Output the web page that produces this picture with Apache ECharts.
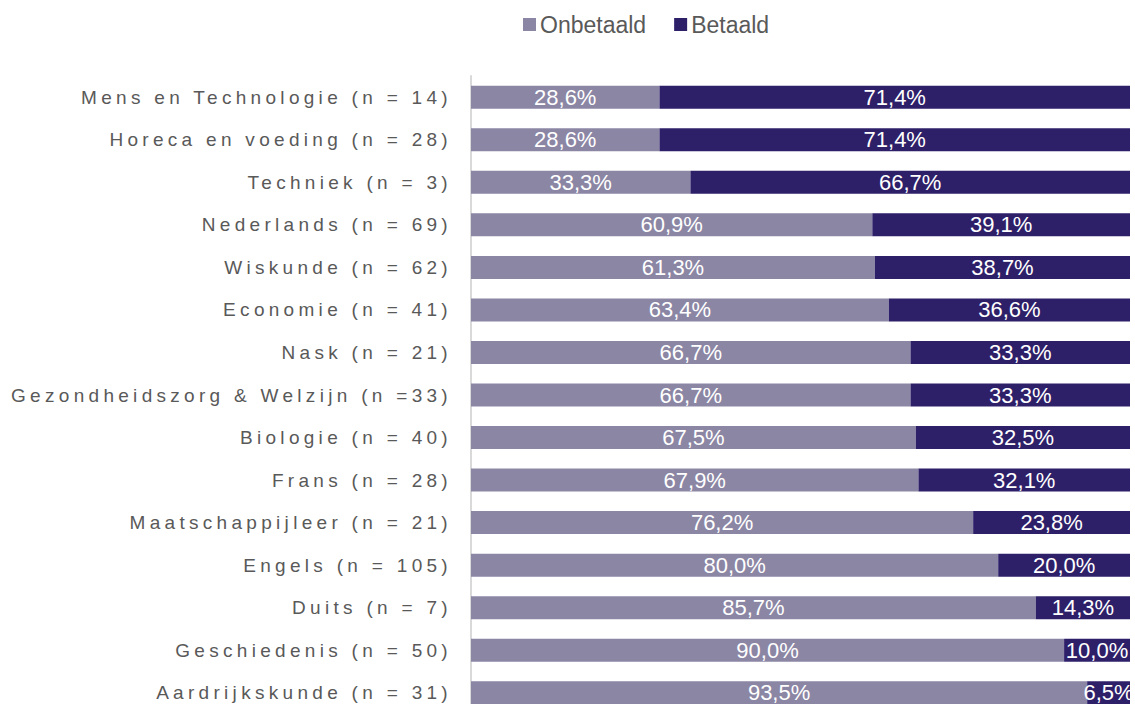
<!DOCTYPE html>
<html>
<head>
    <meta charset="UTF-8">
    <title>Onbetaald / Betaald per vak</title>
    <script type="text/javascript" src="https://cdn.jsdelivr.net/npm/echarts@6/dist/echarts.min.js"></script>
    <style>
        html, body { margin: 0; padding: 0; background: #ffffff; overflow: hidden; }
        /* spaced-out category labels, like the original */
        #main text[style*="Liberation Sans"] { letter-spacing: 4.3px; }
    </style>
</head>
<body>
<!-- a bit taller than the window: the last bar is cut off in the original -->
<div id="main" style="width: 1135px;height:714px;"></div>
<script type="text/javascript">
    // categories, top to bottom
    var vakken = [
        'Mens en Technologie (n = 14)',
        'Horeca en voeding (n = 28)',
        'Techniek (n = 3)',
        'Nederlands (n = 69)',
        'Wiskunde (n = 62)',
        'Economie (n = 41)',
        'Nask (n = 21)',
        'Gezondheidszorg & Welzijn (n =33)',
        'Biologie (n = 40)',
        'Frans (n = 28)',
        'Maatschappijleer (n = 21)',
        'Engels (n = 105)',
        'Duits (n = 7)',
        'Geschiedenis (n = 50)',
        'Aardrijkskunde (n = 31)'
    ];
    var onbetaald = [28.6, 28.6, 33.3, 60.9, 61.3, 63.4, 66.7, 66.7, 67.5, 67.9, 76.2, 80.0, 85.7, 90.0, 93.5];
    var betaald   = [71.4, 71.4, 66.7, 39.1, 38.7, 36.6, 33.3, 33.3, 32.5, 32.1, 23.8, 20.0, 14.3, 10.0, 6.5];

    var myChart = echarts.init(document.getElementById('main'), null, {renderer: 'svg'});

    function pct(p) {
        return p.value.toFixed(1).replace('.', ',') + '%';
    }

    var labelStyle = {
        show: true,
        position: 'inside',
        color: '#ffffff',
        fontSize: 22,
        fontFamily: 'Arial',
        formatter: pct
    };

    var option = {
        backgroundColor: '#ffffff',
        animation: false,
        legend: {
            top: 13,
            left: 523,
            padding: 0,
            icon: 'rect',
            itemWidth: 13,
            itemHeight: 13,
            itemGap: 28,
            textStyle: { color: '#595959', fontSize: 23, fontFamily: 'Arial', padding: [0, 0, 0, -1] },
            data: ['Onbetaald', 'Betaald']
        },
        grid: {
            left: 471,
            right: 5,
            top: 76,
            bottom: 0,
            containLabel: false
        },
        xAxis: {
            type: 'value',
            min: 0,
            max: 100,
            show: false
        },
        yAxis: {
            type: 'category',
            inverse: true,
            data: vakken,
            axisLine: { show: true, lineStyle: { color: '#d9d9d9', width: 2 } },
            axisTick: { show: false },
            axisLabel: {
                color: '#595959',
                fontSize: 19,
                fontFamily: 'Liberation Sans',
                margin: 19,
                interval: 0
            }
        },
        series: [
            {
                name: 'Onbetaald',
                type: 'bar',
                stack: 'totaal',
                barWidth: 23,
                itemStyle: { color: '#8b86a4' },
                label: labelStyle,
                data: onbetaald
            },
            {
                name: 'Betaald',
                type: 'bar',
                stack: 'totaal',
                barWidth: 23,
                itemStyle: { color: '#2e1f69' },
                label: labelStyle,
                data: betaald
            }
        ]
    };

    myChart.setOption(option);
</script>
</body>
</html>
